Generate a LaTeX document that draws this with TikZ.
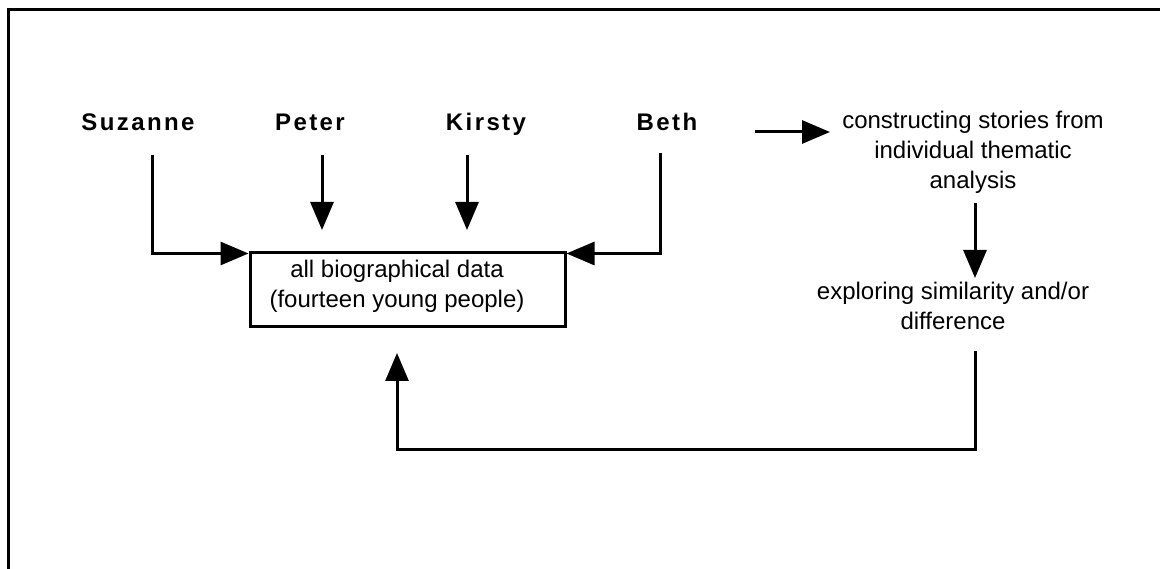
\documentclass[tikz,border=0pt]{standalone}
\usepackage{fontspec}
\setmainfont{Liberation Sans}
\newfontfamily\namefont[LetterSpace=10]{Liberation Sans}
\usetikzlibrary{arrows.meta}
\tikzset{
  personname/.style={anchor=base, inner sep=0pt, font=\namefont\bfseries\fontsize{24}{28}\selectfont},
  txt/.style={anchor=base, inner sep=0pt, align=center, font=\fontsize{24}{30}\selectfont},
  conn/.style={line width=3pt},
  arr/.style={conn, -{Triangle[length=28pt,width=23pt]}},
  boxstyle/.style={draw, line width=3pt, minimum width=315pt, minimum height=74pt, inner sep=0pt}
}
\begin{document}
\begin{tikzpicture}[x=1pt,y=-1pt]
\useasboundingbox (0,0) rectangle (1160,569);
% frame
\draw[conn] (1160,10) -- (8,10) -- (8,569);
% names
\node[personname] (suz) at (138,131) {Suzanne};
\node[personname] (pet) at (310,131) {Peter};
\node[personname] (kir) at (486,131) {Kirsty};
\node[personname] (bet) at (667,131) {Beth};
% box
\node[boxstyle] (box) at (407.5,290) {};
\node[txt] (boxtxt) at (397,308) {all biographical data\\(fourteen young people)};
% right texts
\node[txt] (cons) at (973,189) {constructing stories from\\individual thematic\\analysis};
\node[txt] (expl) at (953,330) {exploring similarity and/or\\difference};
% coordinates
\coordinate (s1) at (152,155);
\coordinate (p1) at (322,155);
\coordinate (p2) at (322,230);
\coordinate (k1) at (467,155);
\coordinate (k2) at (467,230);
\coordinate (b1) at (660,153);
\coordinate (a1) at (755,132);
\coordinate (a2) at (830,132);
\coordinate (c1) at (975,203);
\coordinate (c2) at (975,278);
\coordinate (l1) at (975,351);
\coordinate (l2) at (397,449);
\coordinate (l3) at (397,353);
% connectors
\draw[arr] (s1) |- ([yshift=-2pt]box.north west);
\draw[arr] (p1) -- (p2);
\draw[arr] (k1) -- (k2);
\draw[arr] (b1) |- ([yshift=-2pt]box.north east);
\draw[arr] (a1) -- (a2);
\draw[arr] (c1) -- (c2);
\draw[arr] (l1) |- (l2) -- (l3);
\end{tikzpicture}
\end{document}
